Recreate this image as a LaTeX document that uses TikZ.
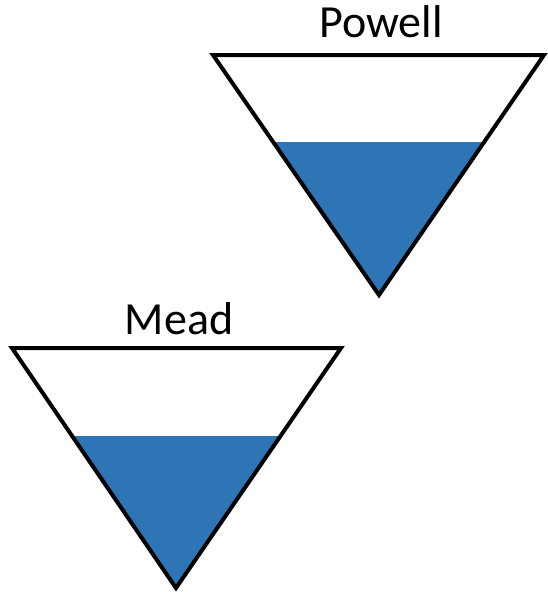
\documentclass[tikz,border=0pt]{standalone}
\usepackage{fontspec}
\setmainfont{Carlito}
\definecolor{water}{RGB}{46,117,182}
\tikzset{
  rim/.style={draw=black, line width=4pt, line join=miter},
  waterfill/.style={fill=water, draw=none},
  lakename/.style={anchor=base, inner sep=0pt, font=\fontsize{46}{52}\selectfont}
}
\begin{document}
\begin{tikzpicture}[x=1pt,y=-1pt]
\useasboundingbox (0,0) rectangle (547,592);
% Powell
\coordinate (pl) at (213,55);
\coordinate (pr) at (544,55);
\coordinate (pb) at (379,295);
\coordinate (pwl) at (273.2,142);
\coordinate (pwr) at (484.2,142);
\fill[waterfill] (pwl) -- (pwr) -- (pb) -- cycle;
\draw[rim] (pl) -- (pr) -- (pb) -- cycle;
\node[lakename] (powell) at (381,37) {Powell};
% Mead
\coordinate (ml) at (12,348);
\coordinate (mr) at (341,348);
\coordinate (mb) at (176,588);
\coordinate (mwl) at (72.4,436);
\coordinate (mwr) at (280.3,436);
\fill[waterfill] (mwl) -- (mwr) -- (mb) -- cycle;
\draw[rim] (ml) -- (mr) -- (mb) -- cycle;
\node[lakename] (mead) at (179,334) {Mead};
\end{tikzpicture}
\end{document}
